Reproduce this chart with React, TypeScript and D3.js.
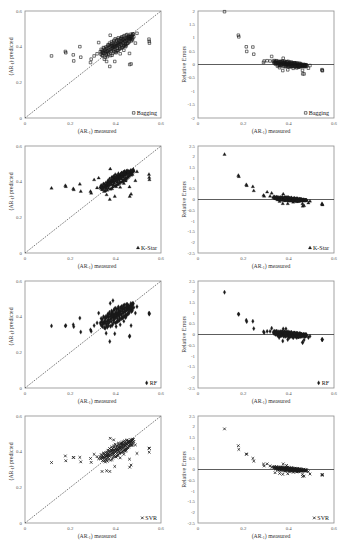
import React from 'react';
import * as d3 from 'd3';

// measured AR-1 values (shared test set): outliers first, then the dense cluster
const measuredMain = [
  0.117, 0.178, 0.180, 0.213, 0.215, 0.242, 0.246, 0.289, 0.292, 0.305, 0.318, 0.325, 0.487, 0.494, 0.547, 0.548, 0.549,
  0.332, 0.335, 0.338, 0.340, 0.341, 0.343, 0.345, 0.346, 0.348, 0.350,
  0.351, 0.353, 0.355, 0.356, 0.358, 0.360, 0.361, 0.362, 0.364, 0.365,
  0.367, 0.368, 0.370, 0.371, 0.372, 0.374, 0.375, 0.376, 0.378, 0.379,
  0.380, 0.381, 0.383, 0.384, 0.385, 0.386, 0.388, 0.389, 0.390, 0.391,
  0.392, 0.394, 0.395, 0.396, 0.397, 0.398, 0.400, 0.401, 0.402, 0.403,
  0.405, 0.406, 0.407, 0.408, 0.410, 0.411, 0.412, 0.414, 0.415, 0.416,
  0.418, 0.419, 0.420, 0.422, 0.423, 0.425, 0.426, 0.428, 0.429, 0.430,
  0.432, 0.433, 0.435, 0.436, 0.438, 0.440, 0.441, 0.443, 0.445, 0.446,
  0.448, 0.450, 0.452, 0.453, 0.455, 0.457, 0.458, 0.460, 0.461, 0.462,
  0.463, 0.465, 0.466, 0.468, 0.470, 0.471, 0.473, 0.475, 0.478, 0.480,
];
const measuredExtra = [
  0.336, 0.342, 0.349, 0.354, 0.357, 0.359, 0.363, 0.366, 0.369, 0.373,
  0.377, 0.382, 0.387, 0.393, 0.399, 0.404, 0.409, 0.413, 0.417, 0.421,
  0.424, 0.427, 0.431, 0.434, 0.437, 0.439, 0.442, 0.444, 0.447, 0.449,
  0.451, 0.454, 0.456, 0.459, 0.464, 0.467, 0.469, 0.472, 0.474, 0.476,
  0.384, 0.392, 0.398, 0.404, 0.412, 0.418, 0.426, 0.436, 0.444, 0.458,
];

const baggingPredMain = [
  0.348, 0.373, 0.366, 0.354, 0.320, 0.400, 0.341, 0.311, 0.330, 0.348, 0.360, 0.423, 0.420, 0.475, 0.442, 0.430, 0.420,
  0.372, 0.358, 0.370, 0.352, 0.380, 0.362, 0.371, 0.395, 0.364, 0.330,
  0.378, 0.366, 0.385, 0.372, 0.360, 0.317, 0.391, 0.374, 0.402, 0.376,
  0.365, 0.394, 0.381, 0.410, 0.372, 0.289, 0.398, 0.464, 0.385, 0.405,
  0.376, 0.414, 0.390, 0.352, 0.402, 0.420, 0.393, 0.381, 0.410, 0.398,
  0.430, 0.387, 0.404, 0.317, 0.412, 0.396, 0.420, 0.401, 0.366, 0.414,
  0.405, 0.440, 0.392, 0.418, 0.408, 0.380, 0.422, 0.412, 0.432, 0.400,
  0.424, 0.415, 0.360, 0.430, 0.418, 0.445, 0.410, 0.428, 0.395, 0.436,
  0.420, 0.442, 0.425, 0.380, 0.438, 0.430, 0.447, 0.432, 0.405, 0.444,
  0.436, 0.450, 0.440, 0.420, 0.452, 0.445, 0.456, 0.448, 0.362, 0.300,
  0.455, 0.446, 0.458, 0.303, 0.452, 0.440, 0.460, 0.448, 0.470, 0.455,
];
const baggingPredExtra = [
  0.385, 0.348, 0.392, 0.340, 0.398, 0.352, 0.344, 0.410, 0.356, 0.420,
  0.350, 0.428, 0.362, 0.436, 0.370, 0.432, 0.378, 0.440, 0.386, 0.446,
  0.392, 0.455, 0.398, 0.458, 0.404, 0.462, 0.410, 0.400, 0.465, 0.415,
  0.468, 0.420, 0.460, 0.426, 0.440, 0.470, 0.432, 0.466, 0.438, 0.472,
  0.405, 0.372, 0.444, 0.375, 0.450, 0.392, 0.448, 0.405, 0.415, 0.432,
];

const kstarPredMain = [
  0.363, 0.378, 0.372, 0.360, 0.354, 0.386, 0.345, 0.345, 0.335, 0.410, 0.365, 0.420, 0.405, 0.456, 0.440, 0.423, 0.410,
  0.368, 0.362, 0.375, 0.355, 0.372, 0.366, 0.360, 0.388, 0.370, 0.345,
  0.382, 0.370, 0.378, 0.365, 0.374, 0.326, 0.386, 0.380, 0.396, 0.372,
  0.378, 0.388, 0.392, 0.404, 0.380, 0.300, 0.394, 0.471, 0.390, 0.400,
  0.383, 0.410, 0.396, 0.360, 0.408, 0.425, 0.400, 0.385, 0.415, 0.404,
  0.428, 0.392, 0.410, 0.317, 0.418, 0.402, 0.424, 0.406, 0.372, 0.420,
  0.410, 0.436, 0.398, 0.422, 0.412, 0.385, 0.426, 0.416, 0.430, 0.405,
  0.428, 0.418, 0.368, 0.434, 0.422, 0.448, 0.415, 0.430, 0.400, 0.438,
  0.425, 0.445, 0.428, 0.390, 0.440, 0.434, 0.450, 0.436, 0.412, 0.446,
  0.440, 0.452, 0.444, 0.425, 0.455, 0.448, 0.458, 0.450, 0.370, 0.317,
  0.456, 0.450, 0.460, 0.330, 0.455, 0.445, 0.462, 0.452, 0.468, 0.458,
];
const kstarPredExtra = [
  0.380, 0.356, 0.386, 0.348, 0.394, 0.360, 0.352, 0.406, 0.362, 0.416,
  0.358, 0.424, 0.370, 0.432, 0.376, 0.428, 0.384, 0.436, 0.390, 0.442,
  0.396, 0.450, 0.402, 0.454, 0.408, 0.458, 0.414, 0.404, 0.460, 0.418,
  0.462, 0.424, 0.456, 0.430, 0.442, 0.464, 0.436, 0.460, 0.440, 0.466,
  0.410, 0.378, 0.440, 0.382, 0.446, 0.396, 0.444, 0.410, 0.420, 0.436,
];

const rfPredMain = [
  0.348, 0.348, 0.350, 0.355, 0.344, 0.392, 0.314, 0.326, 0.318, 0.350, 0.365, 0.420, 0.420, 0.456, 0.420, 0.414, 0.418,
  0.365, 0.355, 0.372, 0.348, 0.385, 0.360, 0.368, 0.400, 0.362, 0.338,
  0.375, 0.364, 0.390, 0.370, 0.307, 0.355, 0.395, 0.372, 0.408, 0.378,
  0.362, 0.398, 0.383, 0.415, 0.370, 0.261, 0.400, 0.475, 0.386, 0.410,
  0.372, 0.418, 0.392, 0.350, 0.405, 0.424, 0.490, 0.380, 0.412, 0.396,
  0.435, 0.384, 0.406, 0.304, 0.415, 0.394, 0.422, 0.400, 0.345, 0.416,
  0.404, 0.445, 0.390, 0.420, 0.408, 0.378, 0.425, 0.410, 0.435, 0.398,
  0.426, 0.414, 0.355, 0.432, 0.416, 0.450, 0.408, 0.430, 0.392, 0.440,
  0.418, 0.446, 0.424, 0.375, 0.440, 0.428, 0.452, 0.430, 0.400, 0.448,
  0.436, 0.455, 0.440, 0.415, 0.456, 0.444, 0.460, 0.446, 0.289, 0.292,
  0.458, 0.445, 0.462, 0.350, 0.455, 0.438, 0.465, 0.446, 0.472, 0.452,
];
const rfPredExtra = [
  0.390, 0.345, 0.395, 0.335, 0.402, 0.348, 0.340, 0.415, 0.350, 0.425,
  0.346, 0.432, 0.358, 0.440, 0.365, 0.436, 0.372, 0.445, 0.380, 0.450,
  0.388, 0.458, 0.394, 0.462, 0.400, 0.466, 0.405, 0.395, 0.468, 0.410,
  0.470, 0.415, 0.462, 0.420, 0.436, 0.474, 0.428, 0.470, 0.434, 0.476,
  0.400, 0.368, 0.448, 0.370, 0.455, 0.388, 0.452, 0.400, 0.410, 0.428,
];

const svrPredMain = [
  0.339, 0.376, 0.349, 0.368, 0.367, 0.368, 0.343, 0.362, 0.340, 0.385, 0.372, 0.360, 0.438, 0.390, 0.420, 0.397, 0.418,
  0.370, 0.360, 0.368, 0.289, 0.378, 0.364, 0.372, 0.392, 0.366, 0.350,
  0.380, 0.368, 0.382, 0.374, 0.362, 0.293, 0.388, 0.376, 0.398, 0.378,
  0.368, 0.390, 0.382, 0.405, 0.374, 0.289, 0.396, 0.475, 0.386, 0.402,
  0.378, 0.410, 0.392, 0.356, 0.404, 0.418, 0.394, 0.384, 0.408, 0.466,
  0.425, 0.390, 0.406, 0.317, 0.412, 0.398, 0.418, 0.402, 0.370, 0.414,
  0.406, 0.434, 0.394, 0.418, 0.410, 0.382, 0.422, 0.412, 0.428, 0.402,
  0.424, 0.416, 0.365, 0.430, 0.420, 0.442, 0.412, 0.428, 0.398, 0.436,
  0.422, 0.444, 0.426, 0.385, 0.438, 0.432, 0.448, 0.434, 0.408, 0.444,
  0.438, 0.450, 0.442, 0.422, 0.454, 0.446, 0.458, 0.450, 0.358, 0.313,
  0.456, 0.448, 0.460, 0.325, 0.454, 0.442, 0.462, 0.450, 0.468, 0.456,
];
const svrPredExtra = [
  0.384, 0.350, 0.390, 0.342, 0.396, 0.354, 0.346, 0.408, 0.358, 0.418,
  0.352, 0.426, 0.364, 0.434, 0.372, 0.430, 0.380, 0.438, 0.388, 0.444,
  0.394, 0.452, 0.400, 0.456, 0.406, 0.460, 0.412, 0.402, 0.462, 0.416,
  0.466, 0.422, 0.458, 0.428, 0.438, 0.468, 0.434, 0.464, 0.436, 0.470,
  0.408, 0.374, 0.442, 0.378, 0.448, 0.394, 0.446, 0.408, 0.418, 0.434,
];

const measured = measuredMain.concat(measuredExtra);
const modelNames = ['Bagging', 'K-Star', 'RF', 'SVR'];
const modelPreds = [
  baggingPredMain.concat(baggingPredExtra),
  kstarPredMain.concat(kstarPredExtra),
  rfPredMain.concat(rfPredExtra),
  svrPredMain.concat(svrPredExtra),
];

const xTicks = [0, 0.2, 0.4, 0.6];
const predTicks = [0, 0.2, 0.4, 0.6];
const relTicksRow1 = [-2, -1.5, -1, -0.5, 0, 0.5, 1, 1.5, 2];
const relTicksOther = [-2.5, -2, -1.5, -1, -0.5, 0, 0.5, 1, 1.5, 2, 2.5];

const W = 344;
const H = 550;
const ROW_TOP = 11;
const ROW_STEP = 135;
const PLOT_H = 107;
const LEFT_X: [number, number] = [25, 161];
const RIGHT_X: [number, number] = [198, 334];

const FONT = '"Liberation Serif", "Times New Roman", serif';
const TICK_COLOR = '#595959';
const BORDER = '#8c8c8c';

const symbolTypes = [d3.symbolSquare, d3.symbolTriangle, d3.symbolDiamond, d3.symbolTimes];
const symbolSizes = [6.5, 5, 5.5, 5.5];

function textWidth(s: string, size: number) {
  const c = document.createElement('canvas').getContext('2d');
  if (!c) return s.length * size * 0.45;
  c.font = `${size}px "Liberation Serif"`;
  return c.measureText(s).width;
}

function Marker({ m, x, y }: { m: number; x: number; y: number }) {
  const path = d3.symbol().type(symbolTypes[m]).size(symbolSizes[m])() || '';
  const hollow = m === 0 || m === 3;
  return (
    <path
      d={path}
      transform={`translate(${x},${y})`}
      fill={hollow ? 'none' : '#1a1a1a'}
      stroke="#1a1a1a"
      strokeWidth={m === 3 ? 0.8 : m === 0 ? 0.6 : 0.25}
    />
  );
}

function ARLabel({ x, y, rest, rotate }: { x: number; y: number; rest: string; rotate?: boolean }) {
  return (
    <text
      x={x}
      y={y}
      textAnchor="middle"
      fontSize={5.8}
      fontFamily={FONT}
      fill="#333"
      transform={rotate ? `rotate(-90,${x},${y})` : undefined}
    >
      <tspan>(AR</tspan>
      <tspan fontSize={3.8} dy={1.4}>-1</tspan>
      <tspan dy={-1.4}>{') ' + rest}</tspan>
    </text>
  );
}

function Legend({ m, right, y }: { m: number; right: number; y: number }) {
  const name = modelNames[m];
  const w = textWidth(name, 6);
  return (
    <g>
      <Marker m={m} x={right - w - 3} y={y - 1.6} />
      <text x={right} y={y} textAnchor="end" fontSize={6} fontFamily={FONT} fill="#111">
        {name}
      </text>
    </g>
  );
}

function Row({ row }: { row: number }) {
  const top = ROW_TOP + row * ROW_STEP;
  const bottom = top + PLOT_H;
  const preds = modelPreds[row];

  const xL = d3.scaleLinear().domain([0, 0.6]).range(LEFT_X);
  const yL = d3.scaleLinear().domain([0, 0.6]).range([bottom, top]);
  const xR = d3.scaleLinear().domain([0, 0.6]).range(RIGHT_X);
  const relTicks = row === 0 ? relTicksRow1 : relTicksOther;
  const relMax = row === 0 ? 2 : 2.5;
  const yR = d3.scaleLinear().domain([-relMax, relMax]).range([bottom, top]);

  // relative error = (predicted - measured) / measured
  const points = measured.map((mv, i) => ({ m: mv, p: preds[i], e: (preds[i] - mv) / mv }));

  return (
    <g>
      {/* left: predicted vs measured */}
      <rect x={LEFT_X[0]} y={top} width={LEFT_X[1] - LEFT_X[0]} height={PLOT_H} fill="none" stroke={BORDER} strokeWidth={0.8} />
      <line
        x1={xL(0)} y1={yL(0)} x2={xL(0.6)} y2={yL(0.6)}
        stroke="#222" strokeWidth={0.6} strokeDasharray="1.6,1.2"
      />
      {points.map((d, i) => (
        <Marker key={i} m={row} x={xL(d.m)} y={yL(d.p)} />
      ))}
      {xTicks.map(t => (
        <text key={'xl' + t} x={xL(t)} y={bottom + 7} textAnchor="middle" fontSize={4.8} fontFamily={FONT} fill={TICK_COLOR}>
          {String(t)}
        </text>
      ))}
      {predTicks.map(t => (
        <text key={'yl' + t} x={LEFT_X[0] - 3} y={yL(t) + 1.6} textAnchor="end" fontSize={4.8} fontFamily={FONT} fill={TICK_COLOR}>
          {String(t)}
        </text>
      ))}
      <ARLabel x={(LEFT_X[0] + LEFT_X[1]) / 2 + 4} y={bottom + 15} rest="measured" />
      <ARLabel x={13} y={(top + bottom) / 2 - 8} rest="predicted" rotate />
      <Legend m={row} right={LEFT_X[1] - 4} y={bottom - 3.5} />

      {/* right: relative errors */}
      <rect x={RIGHT_X[0]} y={top} width={RIGHT_X[1] - RIGHT_X[0]} height={PLOT_H} fill="none" stroke={BORDER} strokeWidth={0.8} />
      <line x1={RIGHT_X[0]} x2={RIGHT_X[1]} y1={yR(0)} y2={yR(0)} stroke="#333" strokeWidth={0.8} />
      {points.map((d, i) => (
        <Marker key={i} m={row} x={xR(d.m)} y={yR(d.e)} />
      ))}
      {xTicks.map(t => (
        <text key={'xr' + t} x={xR(t)} y={bottom + 7} textAnchor="middle" fontSize={4.8} fontFamily={FONT} fill={TICK_COLOR}>
          {String(t)}
        </text>
      ))}
      {relTicks.map(t => (
        <text key={'yr' + t} x={RIGHT_X[0] - 3} y={yR(t) + 1.6} textAnchor="end" fontSize={4.8} fontFamily={FONT} fill={TICK_COLOR}>
          {String(t)}
        </text>
      ))}
      <ARLabel x={(RIGHT_X[0] + RIGHT_X[1]) / 2 + 5} y={bottom + 15} rest="measured" />
      <text
        x={186} y={(top + bottom) / 2}
        textAnchor="middle" fontSize={6} fontFamily={FONT} fill="#333"
        transform={`rotate(-90,186,${(top + bottom) / 2})`}
      >
        Relative Errors
      </text>
      <Legend m={row} right={RIGHT_X[1] - 5} y={bottom - 3.5} />
    </g>
  );
}

export default function App() {
  return (
    <svg
      width={W}
      height={H}
      viewBox={`0 0 ${W} ${H}`}
      style={{ position: 'absolute', left: 0, top: 0, display: 'block', background: '#fff' }}
    >
      {modelNames.map((_, r) => (
        <Row key={r} row={r} />
      ))}
    </svg>
  );
}
